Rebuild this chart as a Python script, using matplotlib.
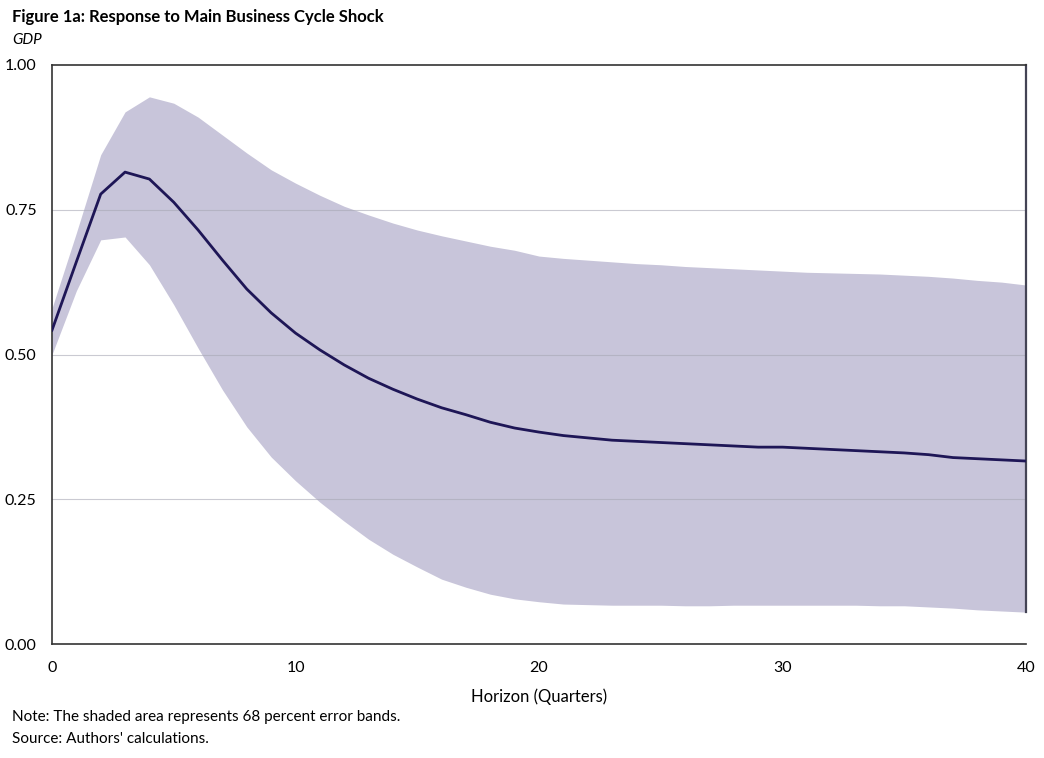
import matplotlib
matplotlib.use("Agg")
import matplotlib.pyplot as plt
import numpy as np

horizon = list(range(0, 41))
irf = [0.542, 0.660, 0.777, 0.815, 0.803, 0.763, 0.715, 0.663, 0.613, 0.572,
       0.537, 0.508, 0.482, 0.459, 0.440, 0.423, 0.408, 0.396, 0.383, 0.373,
       0.366, 0.360, 0.356, 0.352, 0.350, 0.348, 0.346, 0.344, 0.342, 0.340,
       0.340, 0.338, 0.336, 0.334, 0.332, 0.330, 0.327, 0.322, 0.320, 0.318,
       0.316]
upper = [0.580, 0.710, 0.845, 0.919, 0.945, 0.934, 0.910, 0.879, 0.848, 0.819,
         0.796, 0.775, 0.756, 0.741, 0.727, 0.715, 0.705, 0.696, 0.687, 0.680,
         0.670, 0.666, 0.663, 0.660, 0.657, 0.655, 0.652, 0.650, 0.648, 0.646,
         0.644, 0.642, 0.641, 0.640, 0.639, 0.637, 0.635, 0.632, 0.628, 0.625,
         0.620]
lower = [0.500, 0.610, 0.698, 0.703, 0.655, 0.586, 0.511, 0.439, 0.375, 0.323,
         0.282, 0.245, 0.212, 0.181, 0.155, 0.133, 0.112, 0.098, 0.086, 0.078,
         0.073, 0.069, 0.068, 0.067, 0.067, 0.067, 0.066, 0.066, 0.067, 0.067,
         0.067, 0.067, 0.067, 0.067, 0.066, 0.066, 0.064, 0.062, 0.059, 0.057,
         0.055]
yticks = [0.0, 0.25, 0.5, 0.75, 1.0]
ytick_labels = ["0.00", "0.25", "0.50", "0.75", "1.00"]
xticks = [0, 10, 20, 30, 40]

plt.rcParams['font.family'] = ['Lato', 'DejaVu Sans']

fig = plt.figure(figsize=(10.44, 7.58), dpi=100)
ax = fig.add_axes([52/1044, 1 - 644/758, (1026-52)/1044, (644-65)/758])

ax.fill_between(horizon, lower, upper, color='#c8c5da', linewidth=0, zorder=1)
for yv in [0.25, 0.5, 0.75]:
    ax.axhline(yv, color='#a8a8b4', linewidth=0.8, alpha=0.6, zorder=2)
ax.plot(horizon, irf, color='#1e1656', linewidth=2.0, zorder=3)

ax.set_xlim(0, 40)
ax.set_ylim(0, 1.0)
ax.set_xticks(xticks)
ax.set_yticks(yticks)
ax.set_yticklabels(ytick_labels)
ax.tick_params(axis='both', length=0, labelsize=11.5, colors='#000000')
ax.tick_params(axis='x', pad=12)
ax.tick_params(axis='y', pad=11)

for s in ['left', 'top', 'bottom']:
    ax.spines[s].set_color('#333333')
    ax.spines[s].set_linewidth(1.2)
ax.spines['right'].set_color('#444455')
ax.spines['right'].set_linewidth(1.6)
ax.spines['right'].set_bounds(lower[-1], 1.0)

ax.set_xlabel("Horizon (Quarters)", fontsize=12, labelpad=10)

fig.text(12/1044, 1 - 17/758, "Figure 1a: Response to Main Business Cycle Shock",
         fontsize=12, fontweight='bold', va='center', ha='left')
fig.text(12/1044, 1 - 40/758, "GDP", fontsize=11, style='italic', va='center', ha='left')
fig.text(12/1044, 1 - 717/758, "Note: The shaded area represents 68 percent error bands.",
         fontsize=11, va='center', ha='left')
fig.text(12/1044, 1 - 739/758, "Source: Authors' calculations.",
         fontsize=11, va='center', ha='left')

fig.savefig("out.png", dpi=100)
